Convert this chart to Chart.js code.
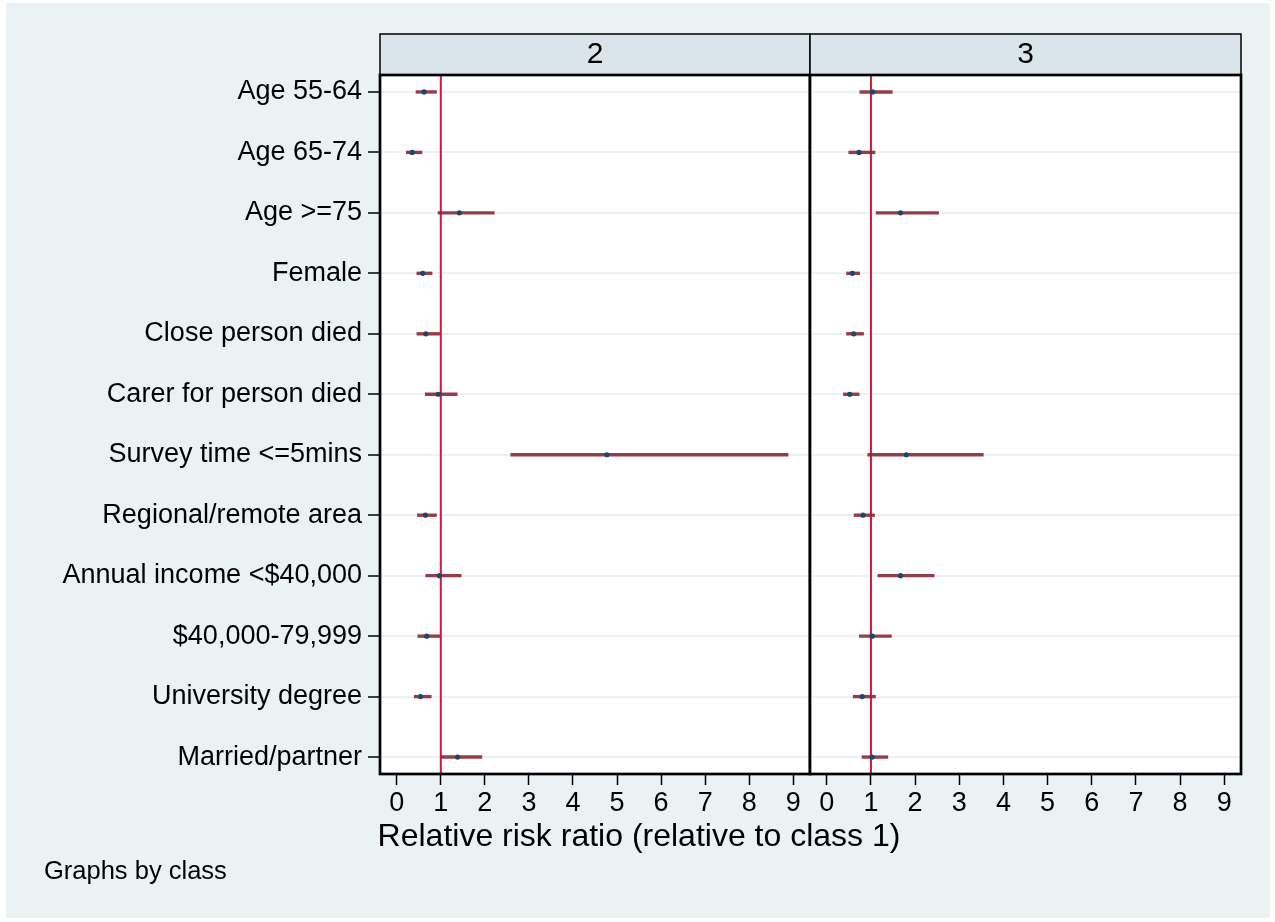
<!DOCTYPE html>
<html>
<head>
<meta charset="utf-8">
<script src="https://cdn.jsdelivr.net/npm/chart.js@4"></script>
<style>
  body { margin: 0; background: #ffffff; }
  #bg { position: absolute; left: 6px; top: 3px; width: 1264px; height: 915px; background: #eaf2f3; }
  canvas { position: absolute; left: 0; top: 0; }
</style>
</head>
<body>
<div id="bg"></div>
<canvas id="panel2" width="1275" height="922"></canvas>
<canvas id="panel3" width="1275" height="922"></canvas>
<script>
var rows = ['Age 55-64', 'Age 65-74', 'Age >=75', 'Female', 'Close person died',
  'Carer for person died', 'Survey time <=5mins', 'Regional/remote area',
  'Annual income <$40,000', '$40,000-79,999', 'University degree', 'Married/partner'];

// class 2 vs class 1
var rrr2 = [0.62, 0.35, 1.42, 0.59, 0.66, 0.94, 4.77, 0.65, 0.97, 0.68, 0.54, 1.38];
var lo2  = [0.43, 0.21, 0.93, 0.45, 0.45, 0.64, 2.58, 0.46, 0.65, 0.47, 0.39, 1.00];
var hi2  = [0.91, 0.58, 2.22, 0.81, 0.98, 1.38, 8.89, 0.91, 1.47, 0.98, 0.79, 1.94];
// class 3 vs class 1
var rrr3 = [1.04, 0.73, 1.67, 0.58, 0.61, 0.52, 1.80, 0.82, 1.67, 1.03, 0.80, 1.03];
var lo3  = [0.74, 0.49, 1.11, 0.44, 0.44, 0.37, 0.92, 0.61, 1.15, 0.73, 0.59, 0.79];
var hi3  = [1.49, 1.10, 2.54, 0.75, 0.84, 0.74, 3.55, 1.09, 2.44, 1.47, 1.11, 1.39];

var xTicks = [0, 1, 2, 3, 4, 5, 6, 7, 8, 9];
var refValue = 1;
var xTitle = 'Relative risk ratio (relative to class 1)';
var note = 'Graphs by class';

var font = '"Liberation Sans", Arial, sans-serif';

// strip above each panel + frame round the plot region
var panelFrame = {
  id: 'panelFrame',
  beforeDraw: function (chart) {
    var c = chart.ctx, a = chart.chartArea;
    c.save();
    c.fillStyle = '#d9e5ea';
    c.fillRect(a.left, 34, a.right - a.left, a.top - 34);
    c.strokeStyle = '#000';
    c.lineWidth = 1.5;
    c.strokeRect(a.left, 34, a.right - a.left, a.top - 34);
    c.fillStyle = '#ffffff';
    c.fillRect(a.left, a.top, a.right - a.left, a.bottom - a.top);
    c.restore();
  },
  afterDraw: function (chart) {
    var c = chart.ctx, a = chart.chartArea;
    c.save();
    c.strokeStyle = '#000';
    c.lineWidth = 2.7;
    c.strokeRect(a.left, a.top, a.right - a.left, a.bottom - a.top);
    c.restore();
  }
};

var sharedText = {
  id: 'sharedText',
  afterDraw: function (chart) {
    var c = chart.ctx;
    c.save();
    c.fillStyle = '#000';
    c.textBaseline = 'alphabetic';
    c.textAlign = 'center';
    c.font = '32px ' + font;
    c.fillText(xTitle, 639, 846);
    c.textAlign = 'left';
    c.font = '25.5px ' + font;
    c.fillText(note, 44, 879);
    c.restore();
  }
};

function makePanel(id, title, rrr, lo, hi, first) {
  var datasets = [];
  datasets.push({
    data: rrr.map(function (v, i) { return { x: v, y: i }; }),
    pointRadius: 2.6, pointBackgroundColor: '#1a476f', pointBorderWidth: 0
  });
  rows.forEach(function (r, i) {
    datasets.push({
      data: [{ x: lo[i], y: i }, { x: hi[i], y: i }],
      showLine: true, borderColor: 'rgba(140, 40, 52, 0.9)', borderWidth: 3.4, pointRadius: 0
    });
  });
  datasets.push({
    data: [{ x: refValue, y: -0.28 }, { x: refValue, y: rows.length - 1 + 0.28 }],
    showLine: true, borderColor: '#d2163e', borderWidth: 2, pointRadius: 0
  });

  return new Chart(document.getElementById(id), {
    type: 'scatter',
    data: { datasets: datasets },
    plugins: first ? [panelFrame, sharedText] : [panelFrame],
    options: {
      responsive: false,
      animation: false,
      devicePixelRatio: 1,
      layout: { padding: first ? { left: 0, top: 34, right: 465, bottom: 0 } : { left: 810, top: 34, right: 34, bottom: 0 } },
      plugins: {
        legend: { display: false },
        tooltip: { enabled: false },
        title: {
          display: true, text: title, fullSize: false, color: '#000',
          font: { family: font, size: 30, weight: 'normal', lineHeight: 1.2 },
          padding: { top: 3, bottom: 2 }
        }
      },
      scales: {
        x: {
          type: 'linear', min: -0.38, max: 9.38,
          afterBuildTicks: function (s) { s.ticks = xTicks.map(function (v) { return { value: v }; }); },
          afterFit: function (s) { s.height = 148; },
          border: { display: false },
          grid: { drawOnChartArea: false, drawTicks: true, tickLength: 11, tickColor: '#000', tickWidth: 1.5 },
          ticks: { color: '#000', padding: 2, font: { family: font, size: 27 }, maxRotation: 0 }
        },
        y: {
          type: 'linear', min: -0.28, max: rows.length - 1 + 0.28, reverse: true,
          afterBuildTicks: function (s) { s.ticks = rows.map(function (r, i) { return { value: i }; }); },
          afterFit: function (s) { s.width = first ? 380 : 0; },
          border: { display: false },
          grid: { color: '#eaf2f3', lineWidth: 2, drawTicks: first, tickLength: 12, tickColor: '#000', tickWidth: 1.5 },
          ticks: {
            display: first, color: '#000', padding: 6, font: { family: font, size: 27 },
            callback: function (v) { return rows[v]; }
          }
        }
      }
    }
  });
}

makePanel('panel2', '2', rrr2, lo2, hi2, true);
makePanel('panel3', '3', rrr3, lo3, hi3, false);
</script>
</body>
</html>
